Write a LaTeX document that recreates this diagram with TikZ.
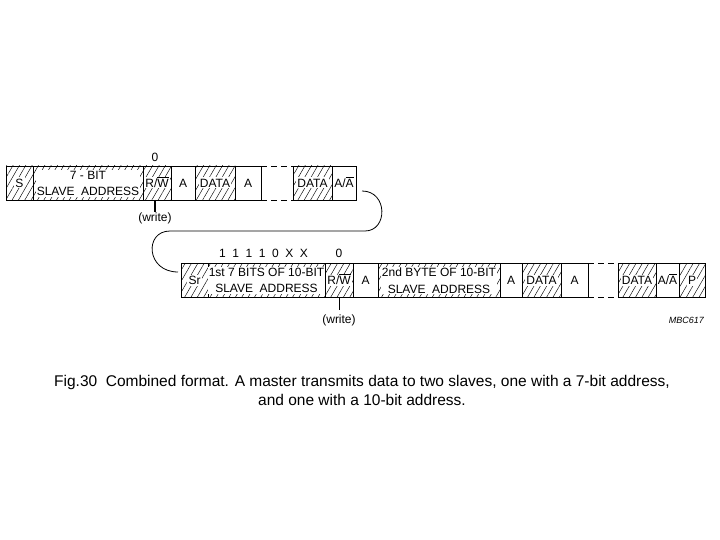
\documentclass[tikz,border=0pt]{standalone}
\usepackage{fontspec}
\setmainfont{Liberation Sans}
\usetikzlibrary{patterns.meta,calc}
\newcommand{\ovl}[1]{$\overline{\hbox{#1}}$}
\tikzset{
  hb/.style={draw, line width=0.8pt, inner sep=0pt, outer sep=0pt, minimum height=34pt,
    pattern={Lines[angle=60,distance=5.5pt,line width=0.45pt]}},
  wb/.style={draw, line width=0.8pt, inner sep=0pt, outer sep=0pt, minimum height=34pt, fill=white},
  lbl/.style={font=\fontsize{12}{16.5}\selectfont, inner sep=1.2pt, align=center},
  one/.style={lbl, text height=8.6pt, text depth=0pt},
  onew/.style={one, fill=white},
  lblw/.style={lbl, fill=white},
  conn/.style={line width=0.8pt},
}
\begin{document}
\begin{tikzpicture}[x=1pt,y=-1pt]
\useasboundingbox[fill=white] (0,0) rectangle (720,540);
% ---- row 1 ----
\node[hb, minimum width=27pt]  (s1)   at (19.5,183) {};
\node[hb, minimum width=110pt] (ad1)  at (88,183)   {};
\node[hb, minimum width=28pt]  (rw1)  at (157,183)  {};
\node[wb, minimum width=24pt]  (a1)   at (183,183)  {};
\node[hb, minimum width=40pt]  (d1)   at (215,183)  {};
\node[wb, minimum width=26pt]  (a2)   at (248,183)  {};
\node[hb, minimum width=39pt]  (d2)   at (312.5,183) {};
\node[wb, minimum width=24pt]  (aa1)  at (344,183)  {};
\draw[conn, dashed, dash pattern=on 6pt off 4pt] (a2.north east) -- (d2.north west);
\draw[conn, dashed, dash pattern=on 6pt off 4pt] (a2.south east) -- (d2.south west);
\node[onew] (s1t)  at (s1)  {S};
\node[lblw] (ad1t) at (88,183.5) {7 - BIT\\SLAVE\ \ ADDRESS};
\node[onew] (rw1t) at (rw1) {R/\ovl{W}};
\node[one]  (a1t)  at (a1)  {A};
\node[onew] (d1t)  at (d1)  {DATA};
\node[one]  (a2t)  at (a2)  {A};
\node[onew] (d2t)  at (d2)  {DATA};
\node[one, inner sep=0pt]  (aa1t) at (aa1) {A/\ovl{A}};
\node[one] (z1) at (155,157) {0};
\coordinate (tk1a) at ($(rw1.south)+(-2,0)$);
\coordinate (tk1b) at ($(rw1.south)+(-2,12)$);
\draw[line width=1.4pt] (tk1a) -- (tk1b);
\node[lbl] (w1) at (155,218) {(write)};
% ---- row 2 ----
\node[hb, minimum width=27pt]  (sr)   at (194.5,280) {};
\node[hb, minimum width=117pt] (ad2)  at (266.5,280) {};
\node[hb, minimum width=28pt]  (rw2)  at (339,280)   {};
\node[wb, minimum width=25pt]  (a3)   at (365.5,280) {};
\node[hb, minimum width=122pt] (by2)  at (439,280)   {};
\node[wb, minimum width=22pt]  (a4)   at (511,280)   {};
\node[hb, minimum width=39pt]  (d3)   at (541.5,280) {};
\node[wb, minimum width=27pt]  (a5)   at (574.5,280) {};
\node[hb, minimum width=38pt]  (d4)   at (637,280)   {};
\node[wb, minimum width=23pt]  (aa2)  at (667.5,280) {};
\node[hb, minimum width=26pt]  (p)    at (692,280)   {};
\draw[conn, dashed, dash pattern=on 6pt off 4pt] (a5.north east) -- (d4.north west);
\draw[conn, dashed, dash pattern=on 6pt off 4pt] (a5.south east) -- (d4.south west);
\node[onew] (srt)  at (sr)  {Sr};
\node[lblw, inner sep=0.6pt] (ad2t) at (266.5,280.5) {1st 7 BITS OF 10-BIT\\SLAVE\ \ ADDRESS};
\node[onew] (rw2t) at (rw2) {R/\ovl{W}};
\node[one]  (a3t)  at (a3)  {A};
\node[lblw, inner sep=0.8pt] (by2t) at (439,280.5) {2nd BYTE OF 10-BIT\\SLAVE\ \ ADDRESS};
\node[one]  (a4t)  at (a4)  {A};
\node[onew] (d3t)  at (d3)  {DATA};
\node[one]  (a5t)  at (a5)  {A};
\node[onew] (d4t)  at (d4)  {DATA};
\node[one, inner sep=0pt]  (aa2t) at (aa2) {A/\ovl{A}};
\node[onew] (pt)   at (p)   {P};
\node[one] (bits) at (263.5,253) {1\hspace{6.6pt}1\hspace{6.6pt}1\hspace{6.6pt}1\hspace{6.6pt}0\hspace{6.6pt}X\hspace{6.6pt}X};
\node[one] (z2) at (339,253) {0};
\coordinate (tk2b) at ($(rw2.south)+(0,13)$);
\draw[line width=0.7pt] (rw2.south) -- (tk2b);
\node[lbl] (w2) at (339,320) {(write)};
\node[font=\fontsize{9}{10}\selectfont\itshape, anchor=east, inner sep=0pt] (mbc) at (704,320) {MBC617};
% ---- connector ----
\coordinate (c1) at ($(aa1.east)+(6,8)$);
\coordinate (c2) at (365,231);
\coordinate (c3) at (170,231);
\coordinate (c4) at ($(sr.west)+(-3,-8)$);
\draw[conn] (c1) .. controls (388,191) and (388,231) .. (c2) -- (c3)
  .. controls (144,231) and (146,272) .. (c4);
% ---- caption ----
\node[font=\fontsize{15.5}{19}\selectfont, align=center] (cap) at (362,390)
  {Fig.30\ \ Combined format. A master transmits data to two slaves, one with a 7-bit address,\\and one with a 10-bit address.};
\end{tikzpicture}
\end{document}
